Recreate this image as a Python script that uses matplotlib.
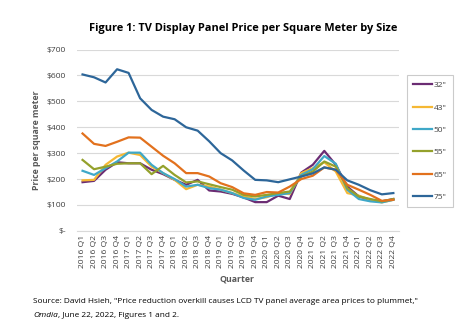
import matplotlib.pyplot as plt
import numpy as np

plt.rcParams['font.family'] = ['Open Sans', 'DejaVu Sans']

quarters = [f"{y} Q{q}" for y in range(2016, 2023) for q in range(1, 5)]

sizes = ['32"', '43"', '50"', '55"', '65"', '75"']
colors = ['#6B2C73', '#F5B834', '#3FA8C8', '#94A12C', '#E2711D', '#2D6699']

p32 = [188, 193, 236, 265, 261, 261, 236, 219, 197, 178, 197, 156, 152, 143,
       129, 111, 111, 136, 123, 225, 255, 309, 255, 171, 133, 120, 114, 123]
p43 = [195, 197, 255, 287, 302, 293, 248, 223, 197, 161, 178, 171, 159, 146,
       133, 123, 130, 146, 142, 223, 242, 265, 229, 146, 136, 120, 110, 120]
p50 = [232, 216, 242, 268, 302, 302, 255, 223, 200, 171, 178, 165, 159, 146,
       127, 120, 133, 139, 146, 216, 238, 289, 259, 159, 123, 114, 110, 120]
p55 = [274, 238, 248, 259, 261, 261, 219, 251, 216, 187, 191, 180, 169, 159,
       139, 133, 139, 146, 152, 210, 229, 268, 248, 165, 133, 123, 114, 123]
p65 = [376, 336, 328, 344, 361, 360, 325, 290, 261, 223, 223, 210, 184, 169,
       145, 139, 150, 148, 171, 200, 213, 245, 236, 178, 159, 139, 116, 120]
p75 = [604, 593, 573, 624, 610, 512, 467, 441, 431, 400, 387, 346, 300, 272,
       233, 197, 195, 188, 199, 210, 222, 245, 236, 195, 178, 157, 141, 146]

series = [p32, p43, p50, p55, p65, p75]

fig = plt.figure(figsize=(4.74, 3.22), dpi=100)
ax = fig.add_axes([0.162, 0.283, 0.68, 0.563])

x = np.arange(len(quarters))
for vals, lab, col in zip(series, sizes, colors):
    ax.plot(x, vals, color=col, lw=1.6, label=lab)

ax.set_xlim(-0.5, len(quarters) - 0.5)
ax.set_ylim(0, 700)
ax.set_yticks(range(0, 701, 100))
ax.set_yticklabels(['$-'] + [f'${v}' for v in range(100, 701, 100)])
ax.set_xticks(x)
ax.set_xticklabels(quarters, rotation=90)
ax.tick_params(axis='both', length=0, labelsize=6.1, colors='#404040')
ax.tick_params(axis='y', pad=8)
ax.tick_params(axis='x', pad=3)
ax.grid(axis='y', color='#D9D9D9', lw=0.8)
ax.set_axisbelow(True)
for s in ['top', 'right', 'left']:
    ax.spines[s].set_visible(False)
ax.spines['bottom'].set_color('#D9D9D9')

ax.set_ylabel('Price per square meter', fontsize=6.3, fontweight='bold',
              color='#595959', labelpad=4)
fig.text(0.5, 0.125, 'Quarter', ha='center', fontsize=6.3,
         fontweight='bold', color='#595959')

fig.text(0.512, 0.905, 'Figure 1: TV Display Panel Price per Square Meter by Size',
         ha='center', fontsize=7.9, fontweight='bold', color='black')

fs = 5.95
fig.text(0.07, 0.06, 'Source: David Hsieh, "Price reduction overkill causes LCD TV '
         'panel average area prices to plummet,"', fontsize=fs, color='black')
om = fig.text(0.07, 0.017, 'Omdia', fontsize=fs, style='italic', color='black')
fig.canvas.draw()
bb = om.get_window_extent().transformed(fig.transFigure.inverted())
fig.text(bb.x1, 0.017, ', June 22, 2022, Figures 1 and 2.', fontsize=fs,
         color='black')

leg = fig.legend(loc='upper left', bbox_to_anchor=(0.858, 0.767), fontsize=6,
                 frameon=True, fancybox=False, edgecolor='#BFBFBF',
                 handlelength=2.3, handletextpad=0.2, labelspacing=1.75,
                 borderpad=0.75, borderaxespad=0)
leg.get_frame().set_linewidth(0.8)
for t in leg.get_texts():
    t.set_color('#404040')

fig.savefig('out.png', dpi=100)
